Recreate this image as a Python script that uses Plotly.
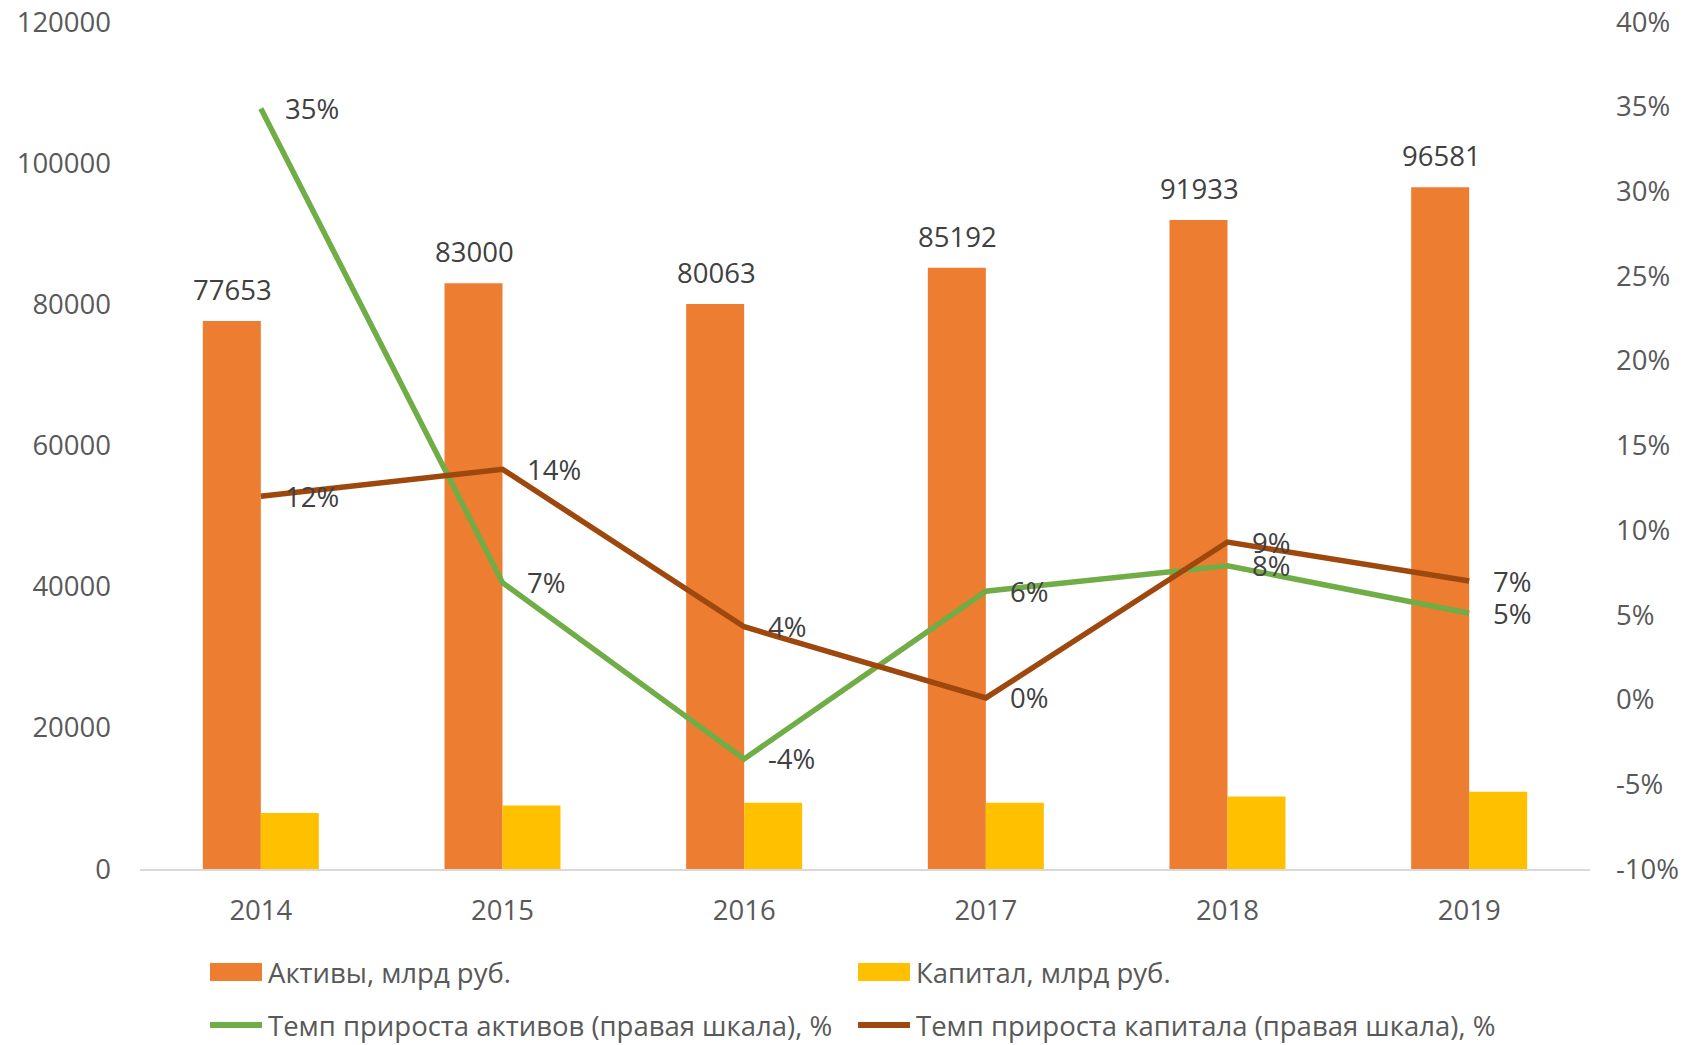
import plotly.graph_objects as go

years = ["2014", "2015", "2016", "2017", "2018", "2019"]
assets = [77653, 83000, 80063, 85192, 91933, 96581]
capital = [7930, 9010, 9390, 9400, 10270, 10960]
assets_growth = [34.9, 6.9, -3.5, 6.4, 7.9, 5.1]
capital_growth = [12.0, 13.6, 4.3, 0.1, 9.3, 7.0]

left_ticks = [0, 20000, 40000, 60000, 80000, 100000, 120000]
left_ticktext = ["0", "20000", "40000", "60000", "80000", "100000", "120000"]
right_ticks = [-10, -5, 0, 5, 10, 15, 20, 25, 30, 35, 40]
right_ticktext = ["-10%", "-5%", "0%", "5%", "10%", "15%", "20%", "25%", "30%", "35%", "40%"]

names = ["Активы, млрд руб.", "Капитал, млрд руб.",
         "Темп прироста активов (правая шкала), %",
         "Темп прироста капитала (правая шкала), %"]
colors = ["#ED7D31", "#FFC000", "#70AD47", "#9E480E"]

FONT = "Open Sans"
TICK_COLOR = "#595959"
LABEL_COLOR = "#404040"
FS = 27.5

fig = go.Figure()
fig.add_trace(go.Bar(x=years, y=assets, name=names[0], marker_color=colors[0],
                     showlegend=False, yaxis="y"))
fig.add_trace(go.Bar(x=years, y=capital, name=names[1], marker_color=colors[1],
                     showlegend=False, yaxis="y"))
fig.add_trace(go.Scatter(x=years, y=assets_growth, name=names[2], mode="lines",
                         line=dict(color=colors[2], width=5.5), yaxis="y2",
                         showlegend=False))
fig.add_trace(go.Scatter(x=years, y=capital_growth, name=names[3], mode="lines",
                         line=dict(color=colors[3], width=5.5), yaxis="y2",
                         showlegend=False))

annotations = []
# bar value labels (category index positions)
for i, v in enumerate(assets):
    annotations.append(dict(x=i, y=v, xref="x", yref="y", text=str(v),
                            showarrow=False, xanchor="center", yanchor="bottom",
                            xshift=-28, yshift=11,
                            font=dict(family=FONT, size=FS, color=LABEL_COLOR)))
# line value labels
for series in (assets_growth, capital_growth):
    for i, v in enumerate(series):
        annotations.append(dict(x=i, y=v, xref="x", yref="y2", text=f"{v:.0f}%",
                                showarrow=False, xanchor="left", yanchor="middle",
                                xshift=22, yshift=0,
                                font=dict(family=FONT, size=FS, color=LABEL_COLOR)))

# custom legend (page pixel positions converted to plot-area paper fractions)
PL, PW, PB, PH = 140, 1450, 869, 847
def px(x):
    return (x - PL) / PW
def py(y):
    return (PB - y) / PH

shapes = []
legend_cols = [210, 858]
legend_rows = [972, 1025]
for i, name in enumerate(names):
    col = legend_cols[i % 2]
    row = legend_rows[i // 2]
    if i < 2:
        shapes.append(dict(type="rect", xref="paper", yref="paper",
                           x0=px(col), x1=px(col + 52), y0=py(row - 9), y1=py(row + 9),
                           fillcolor=colors[i], line=dict(width=0)))
    else:
        shapes.append(dict(type="line", xref="paper", yref="paper",
                           x0=px(col), x1=px(col + 52), y0=py(row), y1=py(row),
                           line=dict(color=colors[i], width=6)))
    annotations.append(dict(x=px(col + 56), y=py(row), xref="paper", yref="paper",
                            text=name, showarrow=False, xanchor="left", yanchor="middle",
                            font=dict(family=FONT, size=FS, color=TICK_COLOR)))

# the page body has an 8px margin, so the figure is offset by 8px
fig.update_layout(
    template="none",
    width=1684, height=1037,
    margin=dict(l=132, r=102, t=14, b=176, autoexpand=False),
    paper_bgcolor="white", plot_bgcolor="white",
    barmode="group", bargap=0.52, bargroupgap=0,
    showlegend=False,
    font=dict(family=FONT, size=FS, color=TICK_COLOR),
    xaxis=dict(type="category", range=[-0.5, 5.5], automargin=False,
               showgrid=False, zeroline=False,
               showline=True, linecolor="#D9D9D9", linewidth=2,
               ticks="", ticklabelstandoff=16,
               tickfont=dict(family=FONT, size=FS, color=TICK_COLOR)),
    yaxis=dict(range=[0, 120000], tickvals=left_ticks, ticktext=left_ticktext,
               automargin=False, ticklabeloverflow="allow",
               showgrid=False, zeroline=False, showline=False, ticks="",
               ticklabelstandoff=28,
               tickfont=dict(family=FONT, size=FS, color=TICK_COLOR)),
    yaxis2=dict(range=[-10, 40], tickvals=right_ticks, ticktext=right_ticktext,
                automargin=False, ticklabeloverflow="allow",
                overlaying="y", side="right", showgrid=False, zeroline=False,
                showline=False, ticks="", ticklabelstandoff=25,
                tickfont=dict(family=FONT, size=FS, color=TICK_COLOR)),
    annotations=annotations,
    shapes=shapes,
)

fig.write_html("out.html")
